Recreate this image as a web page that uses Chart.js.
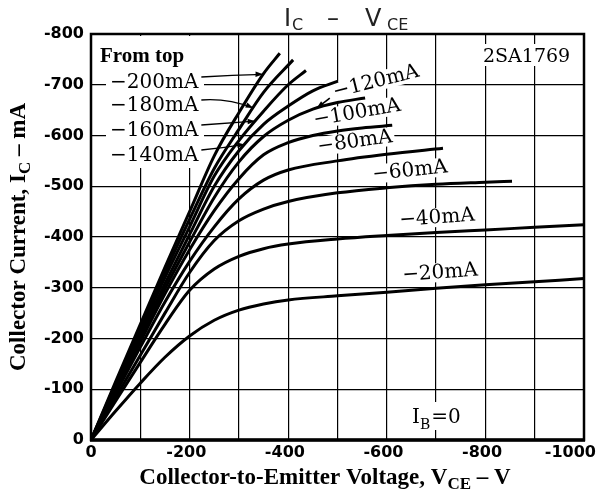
<!DOCTYPE html>
<html>
<head>
<meta charset="utf-8">
<script src="https://cdn.jsdelivr.net/npm/chart.js@4.4.1/dist/chart.umd.min.js"></script>
<style>
  html, body { margin: 0; padding: 0; background: #fff; }
  #wrap { width: 596px; height: 492px; position: relative; }
</style>
</head>
<body>
<div id="wrap"><canvas id="icVce"></canvas></div>
<script>
// 2SA1769  I_C - V_CE
// each curve: [V_CE, I_C (mA)] pairs, one curve per base current
const ib20 = [[0,0],[-50,-57],[-100,-112],[-150,-163],[-200,-205],[-250,-236],[-300,-256],[-350,-268],[-400,-276],[-500,-284],[-600,-291],[-700,-299],[-800,-306],[-900,-312],[-1000,-318]];
const ib40 = [[0,0],[-50,-77],[-100,-153],[-150,-228],[-200,-295],[-250,-337],[-300,-362],[-350,-377],[-400,-386],[-500,-396],[-600,-403],[-700,-409],[-800,-414],[-900,-419],[-1000,-424]];
const ib60 = [[0,0],[-50,-84],[-100,-167],[-150,-250],[-200,-330],[-250,-393],[-300,-432],[-350,-455],[-400,-470],[-500,-487],[-600,-497],[-700,-504],[-800,-508],[-854,-510]];
const ib80 = [[0,0],[-50,-92],[-100,-183],[-150,-272],[-200,-352],[-250,-420],[-300,-475],[-350,-512],[-400,-532],[-500,-550],[-600,-563],[-714,-575]];
const ib100 = [[0,0],[-50,-97],[-100,-193],[-150,-288],[-200,-375],[-250,-452],[-300,-515],[-350,-562],[-400,-586],[-450,-600],[-500,-609],[-550,-615],[-611,-620]];
const ib120 = [[0,0],[-50,-100],[-100,-200],[-150,-298],[-200,-390],[-250,-478],[-300,-548],[-350,-598],[-400,-630],[-450,-652],[-500,-665],[-556,-674]];
const ib140 = [[0,0],[-50,-104],[-100,-207],[-150,-308],[-200,-405],[-250,-500],[-300,-570],[-350,-622],[-400,-658],[-450,-688],[-501,-707]];
const ib160 = [[0,0],[-50,-107],[-100,-214],[-150,-320],[-200,-420],[-250,-520],[-300,-590],[-350,-648],[-400,-700],[-436,-728]];
const ib180 = [[0,0],[-50,-111],[-100,-221],[-150,-330],[-200,-435],[-250,-535],[-300,-612],[-350,-685],[-410,-749]];
const ib200 = [[0,0],[-50,-115],[-100,-228],[-150,-340],[-200,-450],[-250,-560],[-300,-645],[-350,-722],[-383,-762]];

const curves = [ib20, ib40, ib60, ib80, ib100, ib120, ib140, ib160, ib180, ib200];
const ibNames = ["\u221220mA", "\u221240mA", "\u221260mA", "\u221280mA", "\u2212100mA", "\u2212120mA", "\u2212140mA", "\u2212160mA", "\u2212180mA", "\u2212200mA"];

const xTicks = [0, -200, -400, -600, -800, -1000];
const yTicks = [0, -100, -200, -300, -400, -500, -600, -700, -800];

const SERIF = '"DejaVu Serif", serif';
const TSERIF = '"Liberation Serif", "Times New Roman", serif';

// linear lookup on a curve, used to put arrow tips on the line
function curveAt(curve, v) {
  for (let i = 1; i < curve.length; i++) {
    const [v0, i0] = curve[i - 1], [v1, i1] = curve[i];
    if (v <= v0 && v >= v1) return i0 + (i1 - i0) * (v - v0) / (v1 - v0);
  }
  return curve[curve.length - 1][1];
}

function arrowHead(ctx, x0, y0, x1, y1) {
  const a = Math.atan2(y1 - y0, x1 - x0);
  ctx.beginPath();
  ctx.moveTo(x1, y1);
  ctx.lineTo(x1 - 8 * Math.cos(a - 0.35), y1 - 8 * Math.sin(a - 0.35));
  ctx.lineTo(x1 - 8 * Math.cos(a + 0.35), y1 - 8 * Math.sin(a + 0.35));
  ctx.closePath();
  ctx.fill();
}

// rotated curve labels: [index into curves, centre x, centre y, angle deg]
const tagSpots = [
  [5, 376, 82, -14], [4, 357, 113, -10], [3, 355, 142, -8],
  [2, 410, 171, -6], [1, 437, 218, -4], [0, 440, 273, -4]
];
// legend rows "From top": [index, baseline y, arrow V]
const legendRows = [[9, 88, -349], [8, 111, -329], [7, 136, -333], [6, 161, -312]];

function tagBox(ctx, text, cx, cy, ang, fill) {
  ctx.save();
  ctx.translate(cx, cy);
  ctx.rotate(ang * Math.PI / 180);
  ctx.font = '20px ' + SERIF;
  const w = ctx.measureText(text).width;
  if (fill) {
    ctx.fillStyle = '#fff';
    ctx.fillRect(-w / 2 - 2, -10, w + 4, 19);
  } else {
    ctx.fillStyle = '#000';
    ctx.textAlign = 'center';
    ctx.textBaseline = 'middle';
    ctx.fillText(text, 0, 0);
  }
  ctx.restore();
}

const plotText = {
  id: 'plotText',
  beforeDatasetsDraw(chart) {
    const { ctx } = chart;
    ctx.save();
    ctx.fillStyle = '#fff';
    ctx.fillRect(106, 36, 98, 132);          // "From top" box hides grid
    ctx.fillRect(481, 44, 94, 22);           // 2SA1769
    ctx.fillRect(410, 402, 60, 28);          // I_B = 0
    ctx.restore();
    tagSpots.forEach(([k, x, y, a]) => tagBox(ctx, ibNames[k], x, y, a, true));
  },
  afterDatasetsDraw(chart) {
    const { ctx, chartArea: a } = chart;
    const xs = chart.scales.x, ys = chart.scales.y;
    ctx.save();
    ctx.fillStyle = '#000';
    ctx.strokeStyle = '#000';

    // legend box
    ctx.font = 'bold 21px ' + TSERIF;
    ctx.textBaseline = 'alphabetic';
    ctx.fillText('From top', 100, 62);
    ctx.font = '20px ' + SERIF;
    ctx.lineWidth = 1.4;
    legendRows.forEach(([k, base, v]) => {
      ctx.fillText(ibNames[k], 110, base);
      const w = ctx.measureText(ibNames[k]).width;
      const tx = xs.getPixelForValue(v), ty = ys.getPixelForValue(curveAt(curves[k], v));
      const sx = 110 + w + 3, sy = base - 11;
      ctx.beginPath();
      ctx.moveTo(sx, sy);
      ctx.quadraticCurveTo((sx + tx) / 2, sy - 2, tx, ty);
      ctx.stroke();
      arrowHead(ctx, (sx + tx) / 2, sy - 3, tx, ty);
    });

    // labels along the curves
    tagSpots.forEach(([k, x, y, ang]) => tagBox(ctx, ibNames[k], x, y, ang, false));
    // arrow from -120mA label to its curve
    {
      const v = -458;
      const tx = xs.getPixelForValue(v), ty = ys.getPixelForValue(curveAt(ib120, v));
      ctx.lineWidth = 1.6;
      ctx.beginPath();
      ctx.moveTo(tx + 13, ty - 10);
      ctx.lineTo(tx, ty);
      ctx.stroke();
      arrowHead(ctx, tx + 13, ty - 10, tx, ty);
    }

    // part number and I_B = 0
    ctx.font = '19px ' + SERIF;
    ctx.fillText('2SA1769', 483, 62);
    ctx.font = '20px ' + SERIF;
    ctx.fillText('I', 412, 423);
    let wI = ctx.measureText('I').width;
    ctx.font = '14px ' + SERIF;
    ctx.fillText('B', 412 + wI, 429);
    let wB = ctx.measureText('B').width;
    ctx.font = '20px ' + SERIF;
    ctx.fillText('=0', 412 + wI + wB + 1, 423);

    // frame
    ctx.lineWidth = 2.5;
    ctx.strokeRect(a.left, a.top, a.right - a.left, a.bottom - a.top);
    ctx.lineWidth = 3.5;
    ctx.beginPath();
    ctx.moveTo(a.left - 1, a.bottom);
    ctx.lineTo(a.right + 1, a.bottom);
    ctx.stroke();
    ctx.restore();
  },
  afterDraw(chart) {
    const { ctx, chartArea: a, width } = chart;
    const xs = chart.scales.x, ys = chart.scales.y;
    ctx.save();
    ctx.fillStyle = '#000';
    ctx.font = 'bold 16px "DejaVu Sans", sans-serif';
    ctx.textBaseline = 'middle';

    // y tick labels
    ctx.textAlign = 'right';
    yTicks.forEach(v => ctx.fillText(String(v), a.left - 7, ys.getPixelForValue(v)));

    // x tick labels: digits centred on the grid line, last one kept inside
    xTicks.forEach(v => {
      const s = String(v);
      const digits = ctx.measureText(s.replace('-', '')).width;
      let right = xs.getPixelForValue(v) + digits / 2;
      if (right > width) right = width;
      ctx.fillText(s, right, a.bottom + 13);
    });

    // title
    ctx.textAlign = 'left';
    ctx.textBaseline = 'alphabetic';
    ctx.fillStyle = '#222';
    ctx.font = '24px "DejaVu Sans", sans-serif';
    ctx.fillText('I', 284, 26);
    ctx.fillText('\u2013', 327, 26);
    ctx.fillText('V', 365, 26);
    ctx.font = '16px "DejaVu Sans", sans-serif';
    ctx.fillText('C', 292, 30);
    ctx.fillText('CE', 387, 30);

    // axis titles with subscripts
    ctx.fillStyle = '#000';
    const drawRun = (parts, cx, base) => {
      let total = 0;
      parts.forEach(p => { ctx.font = p[1]; total += ctx.measureText(p[0]).width; });
      let x = cx - total / 2;
      parts.forEach(p => {
        ctx.font = p[1];
        ctx.fillText(p[0], x, base + p[2]);
        x += ctx.measureText(p[0]).width;
      });
    };
    const big = 'bold 23px ' + TSERIF, sub = 'bold 17px ' + TSERIF;
    drawRun([['Collector-to-Emitter Voltage, V', big, 0], ['CE', sub, 5], [' \u2013 V', big, 0]], 325, 484);

    ctx.save();
    ctx.translate(25, 237);
    ctx.rotate(-Math.PI / 2);
    drawRun([['Collector Current, I', big, 0], ['C', sub, 5], [' \u2013 mA', big, 0]], 0, 0);
    ctx.restore();
    ctx.restore();
  }
};

const ctx = document.getElementById('icVce').getContext('2d');
new Chart(ctx, {
  type: 'scatter',
  data: {
    datasets: curves.map((c, k) => ({
      label: ibNames[k],
      data: c.map(([x, y]) => ({ x, y })),
      showLine: true,
      borderColor: '#000',
      borderWidth: 3,
      pointRadius: 0,
      cubicInterpolationMode: 'monotone',
      fill: false,
    })),
  },
  options: {
    responsive: true,
    maintainAspectRatio: false,
    animation: false,
    devicePixelRatio: 1,
    layout: { padding: { left: 91, top: 34, right: 12, bottom: 52 } },
    plugins: { legend: { display: false }, tooltip: { enabled: false } },
    scales: {
      x: {
        type: 'linear', min: -1000, max: 0, reverse: true,
        ticks: { display: false, stepSize: 100 },
        grid: { color: '#000', lineWidth: 1.2, drawTicks: false },
        border: { display: false },
      },
      y: {
        type: 'linear', min: -800, max: 0, reverse: true,
        ticks: { display: false, stepSize: 100 },
        grid: { color: '#000', lineWidth: 1.2, drawTicks: false },
        border: { display: false },
      },
    },
  },
  plugins: [plotText],
});
</script>
</body>
</html>
